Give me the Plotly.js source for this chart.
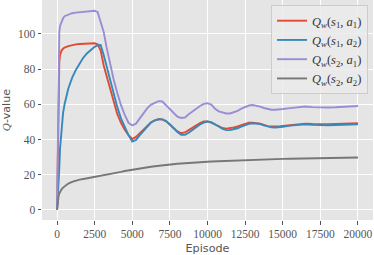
<!DOCTYPE html>
<html>
<head>
<meta charset="utf-8">
<script src="https://cdn.plot.ly/plotly-3.0.1.min.js"></script>
<style>html,body{margin:0;padding:0;background:#fff;}#chart{width:374px;height:255px;}</style>
</head>
<body>
<div id="chart"></div>
<script>
const episodes = [0,50,100,150,200,300,400,500,750,1000,1250,1500,1750,2000,2250,2500,2700,2900,3100,3300,3500,3750,4000,4250,4500,4750,5000,5250,5500,5750,6000,6250,6500,6750,7000,7250,7500,7750,8000,8250,8500,8750,9000,9250,9500,9750,10000,10250,10500,10750,11000,11250,11500,11750,12000,12250,12500,12750,13000,13250,13500,13750,14000,14250,14500,14750,15000,15500,16000,16500,17000,17500,18000,18500,19000,19500,20000];

const q_s1_a1 = [0,35,72,84,88,90.5,91.5,92.2,93,93.6,94,94.2,94.4,94.5,94.4,94.6,94,90.5,82,76,70,61,54.5,49.5,45.5,42.5,40.3,41.5,43.7,46,48.2,49.8,50.9,51.5,51.4,50.3,48.5,46.6,44.6,43.6,44,45.3,46.8,48,49.3,50.2,50.3,49.6,48.6,47.4,46.5,46.2,46.3,46.8,47.4,48.2,48.9,49.5,49.6,49.4,49,48.3,47.6,47.4,47.3,47.4,47.7,48.2,48.5,49,48.8,48.6,48.7,48.8,49,49.1,49.3];

const q_s1_a2 = [0,6,15,24,35,47,55,60,69,75,79.5,83,86.5,89,91,92.6,93.5,93.6,88,81.5,75,65.5,58.5,52,47,42.5,38.8,39.8,42.5,44.8,47.5,49.7,50.9,51.5,51.4,50.5,48.5,46.3,44.2,42.6,42.6,43.8,45.4,47,48.5,49.6,50.2,49.8,48.8,47.4,46,45.3,45.3,45.7,46.4,47.3,48.2,48.9,49.2,49.2,48.8,48,47.3,46.9,46.8,46.9,47.2,47.9,48.3,48.6,48.3,48,48.1,48.2,48.3,48.5,48.7];

const q_s2_a1 = [0,45,88,101,104.5,107,108.8,110,111,111.7,112,112.3,112.5,112.8,112.9,113.1,112.3,107,101,92,84,74.5,66.5,59.5,54,49.5,48,49,52,55,57.8,59.8,61,61.8,61.6,59.5,57,54.8,53,52.2,52.5,54.3,56,57.5,59,60.2,60.6,59.8,57.5,56,55.2,54.8,54.8,55.4,56.3,57.5,58.5,59.3,59.6,59.3,58.7,57.9,57.2,56.9,56.9,57,57.3,57.8,58.2,58.7,58.4,58.1,58.2,58.3,58.5,58.7,59];

const q_s2_a2 = [0,5,7.8,9.3,10.3,11.7,12.7,13.5,15,16,16.7,17.2,17.6,18,18.3,18.6,18.8,19.1,19.4,19.7,20.1,20.6,21.1,21.6,22.1,22.5,22.9,23.3,23.6,23.9,24.2,24.5,24.8,25.1,25.4,25.6,25.8,26,26.2,26.4,26.6,26.8,26.9,27,27.1,27.2,27.4,27.5,27.6,27.7,27.8,27.9,28,28.1,28.2,28.3,28.4,28.5,28.5,28.6,28.7,28.7,28.8,28.8,28.9,28.9,29,29.1,29.2,29.3,29.4,29.4,29.5,29.6,29.6,29.7,29.8];

const seriesNames = [
  "<i>Q</i><sub><i>w</i></sub>(<i>s</i><sub>1</sub>, <i>a</i><sub>1</sub>)",
  "<i>Q</i><sub><i>w</i></sub>(<i>s</i><sub>1</sub>, <i>a</i><sub>2</sub>)",
  "<i>Q</i><sub><i>w</i></sub>(<i>s</i><sub>2</sub>, <i>a</i><sub>1</sub>)",
  "<i>Q</i><sub><i>w</i></sub>(<i>s</i><sub>2</sub>, <i>a</i><sub>2</sub>)"
];
const xTicks = [0,2500,5000,7500,10000,12500,15000,17500,20000];
const yTicks = [0,20,40,60,80,100];

const colors = ["#E24A33","#348ABD","#988ED5","#777777"];
const ys = [q_s1_a1,q_s1_a2,q_s2_a1,q_s2_a2];

const traces = ys.map((y,i)=>({
  x: episodes, y: y, type: "scatter", mode: "lines", name: seriesNames[i],
  line: {color: colors[i], width: 1.9}
}));

const tickFont = {family: "Liberation Serif, serif", size: 11.5, color: "#555555"};
const layout = {
  width: 374, height: 255,
  margin: {l: 42, r: 1, t: 0, b: 35},
  paper_bgcolor: "#ffffff",
  plot_bgcolor: "#E5E5E5",
  showlegend: true,
  legend: {
    x: 0.985, y: 0.977, xanchor: "right", yanchor: "top",
    bgcolor: "rgba(235,235,235,0.85)", bordercolor: "#CCCCCC", borderwidth: 1,
    font: {family: "Liberation Serif, serif", size: 12.5, color: "#333333"},
    tracegroupgap: 0
  },
  xaxis: {
    range: [-1000, 21000], tickvals: xTicks, ticktext: xTicks.map(String),
    ticks: "outside", ticklen: 3.5, tickwidth: 1, tickcolor: "#555555",
    showgrid: true, gridcolor: "#ffffff", gridwidth: 1, zeroline: false, showline: false,
    tickfont: tickFont,
    title: {text: "Episode", font: {family: "DejaVu Sans, sans-serif", size: 11.2, color: "#555555"}, standoff: 4}
  },
  yaxis: {
    range: [-5.7, 119.2], tickvals: yTicks, ticktext: yTicks.map(String),
    ticks: "outside", ticklen: 3.5, tickwidth: 1, tickcolor: "#555555",
    showgrid: true, gridcolor: "#ffffff", gridwidth: 1, zeroline: false, showline: false,
    tickfont: tickFont,
    title: {text: "<span style=\"font-family:'Liberation Serif',serif\"><i>Q</i></span>-value", font: {family: "DejaVu Sans, sans-serif", size: 11.2, color: "#555555"}, standoff: 6}
  }
};
Plotly.newPlot("chart", traces, layout, {displayModeBar: false, staticPlot: true});
</script>
</body>
</html>
